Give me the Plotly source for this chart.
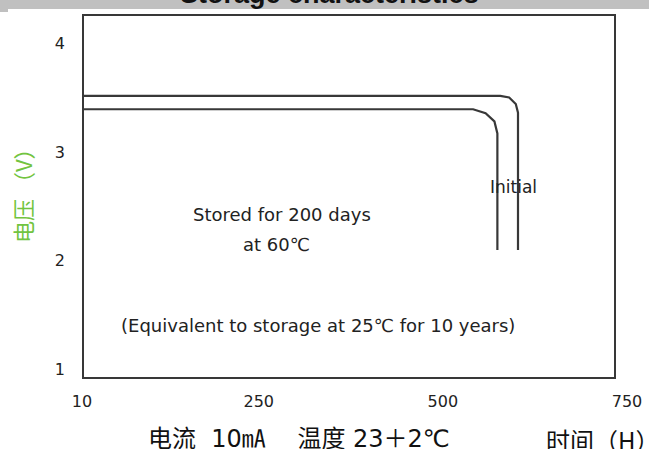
import plotly.graph_objects as go

# ---- data ----
x_ticks = [10, 250, 500, 750]
x_tick_labels = ["10", "250", "500", "750"]
y_ticks = [1, 2, 3, 4]
y_tick_labels = ["1", "2", "3", "4"]

# Initial discharge curve (time H, voltage V)
initial_x = [12, 578, 590, 595, 599, 602, 602]
initial_y = [3.515, 3.515, 3.50, 3.47, 3.44, 3.36, 2.10]

# After storage 200 days at 60C
stored_x = [12, 541, 558, 564, 570, 574, 574]
stored_y = [3.392, 3.392, 3.356, 3.32, 3.28, 3.17, 2.10]

W, H = 649, 449
L, R, T, B = 82, 22, 15, 71
PW = W - L - R
PH = H - T - B


def px_x(p):
    return (p - L) / PW


def px_y(p):
    return (H - B - p) / PH


line_color = "#383838"
txt_font = dict(family="DejaVu Sans", size=18, color="#222")
tick_font = dict(family="DejaVu Sans", size=16, color="#222")
cjk_font = dict(family="DejaVu Sans, Noto Sans CJK SC", size=24, color="#111")

fig = go.Figure()
fig.add_trace(go.Scatter(x=initial_x, y=initial_y, mode="lines",
                         line=dict(color=line_color, width=2.2), hoverinfo="skip",
                         name="Initial"))
fig.add_trace(go.Scatter(x=stored_x, y=stored_y, mode="lines",
                         line=dict(color=line_color, width=2.2), hoverinfo="skip",
                         name="Stored"))

fig.update_layout(
    width=W, height=H, autosize=False,
    margin=dict(l=L, r=R, t=T, b=B, pad=0, autoexpand=False),
    paper_bgcolor="white", plot_bgcolor="white",
    showlegend=False,
    xaxis=dict(range=[10, 750], tickvals=x_ticks, ticktext=x_tick_labels,
               showgrid=False, zeroline=False, showline=False, ticks="", automargin=False,
               ticklabelstandoff=12, tickfont=tick_font, fixedrange=True),
    yaxis=dict(range=[0.925, 4.257], tickvals=y_ticks, ticktext=y_tick_labels,
               showgrid=False, zeroline=False, showline=False, ticks="", automargin=False,
               ticklabelstandoff=16, tickfont=tick_font, fixedrange=True),
    shapes=[
        # plot frame
        dict(type="rect", xref="paper", yref="paper", x0=px_x(83), x1=px_x(615), y0=0, y1=1,
             line=dict(color=line_color, width=2), fillcolor="rgba(0,0,0,0)", layer="above"),
        # grey title bar remnants
        dict(type="rect", xref="paper", yref="paper", x0=px_x(8), x1=px_x(W + 5),
             y0=px_y(9), y1=px_y(-5), line=dict(width=0), fillcolor="#c0c0c0"),
        dict(type="rect", xref="paper", yref="paper", x0=px_x(-5), x1=px_x(8),
             y0=px_y(12), y1=px_y(-5), line=dict(width=0), fillcolor="#c0c0c0"),
    ],
    annotations=[
        dict(text="<b>Storage characteristics</b>", xref="paper", yref="paper",
             x=px_x(329), y=px_y(11), xanchor="center", yanchor="bottom",
             showarrow=False, font=dict(family="Liberation Sans", size=27, color="#111")),
        dict(text="Initial", xref="x", yref="y", x=596, y=2.68, showarrow=False,
             font=dict(family="DejaVu Sans", size=17, color="#222")),
        dict(text="Stored for 200 days", xref="x", yref="y", x=282, y=2.43, showarrow=False,
             font=txt_font),
        dict(text="at 60℃", xref="x", yref="y", x=274, y=2.15, showarrow=False, font=txt_font),
        dict(text="(Equivalent to storage at 25℃ for 10 years)", xref="x", yref="y",
             x=331, y=1.41, showarrow=False, font=txt_font),
        dict(text="电压 （V）", xref="paper", yref="paper", x=px_x(22), y=px_y(190),
             textangle=-90, showarrow=False, xanchor="center", yanchor="middle",
             font=dict(family="Noto Sans CJK SC", size=22, color="#72c440")),
        dict(text="电流  10㎃　 温度 23＋2℃", xref="paper", yref="paper",
             x=px_x(146), y=px_y(439), xanchor="left", yanchor="middle",
             showarrow=False, font=cjk_font),
        dict(text="时间（H）", xref="paper", yref="paper",
             x=px_x(544), y=px_y(439), xanchor="left", yanchor="middle",
             showarrow=False, font=dict(family="Noto Sans CJK SC", size=24, color="#111")),
    ],
)

fig.write_html("out.html", config={"displayModeBar": False, "responsive": False},
               post_script="document.body.style.margin='0';document.body.style.overflow='hidden';")
